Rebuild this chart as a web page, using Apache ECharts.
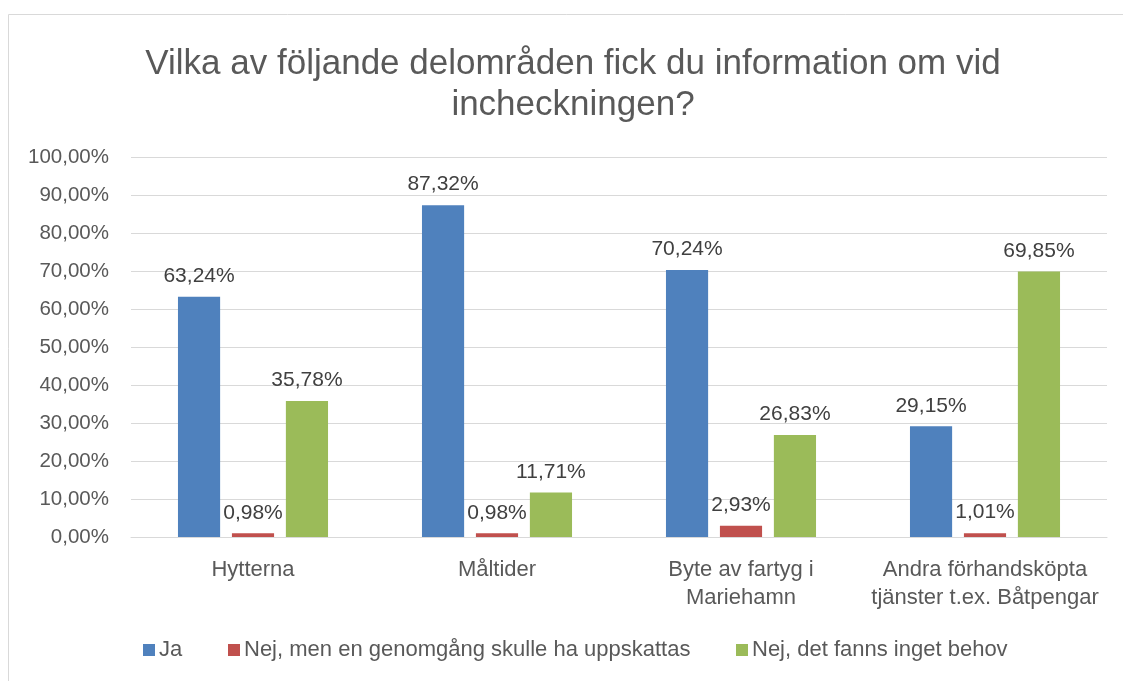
<!DOCTYPE html>
<html>
<head>
<meta charset="utf-8">
<script src="https://cdn.jsdelivr.net/npm/echarts@6/dist/echarts.min.js"></script>
<style>
  html, body { margin: 0; padding: 0; background: #fff; }
  #chart { width: 1123px; height: 681px; }
</style>
</head>
<body>
<div id="chart"></div>
<script>
// kategorier och värden (procent)
var categories = ['Hytterna', 'Måltider', 'Byte av fartyg i\nMariehamn', 'Andra förhandsköpta\ntjänster t.ex. Båtpengar'];
var seriesNames = ['Ja', 'Nej, men en genomgång skulle ha uppskattas', 'Nej, det fanns inget behov'];
var jaValues = [63.24, 87.32, 70.24, 29.15];
var nejMenValues = [0.98, 0.98, 2.93, 1.01];
var nejBehovValues = [35.78, 11.71, 26.83, 69.85];
var yTicks = [0, 10, 20, 30, 40, 50, 60, 70, 80, 90, 100];

var colors = ['#4f81bd', '#c0504d', '#9bbb59'];
var fontFamily = '"Liberation Sans", Arial, sans-serif';

function pct (v) {
  return v.toFixed(2).replace('.', ',') + '%';
}

var myChart = echarts.init(document.getElementById('chart'));

function makeSeries (name, values) {
  return {
    name: name,
    type: 'bar',
    data: values,
    barGap: '28%',
    barCategoryGap: '38.5%',
    label: {
      show: true,
      position: 'top',
      distance: 10,
      color: '#404040',
      fontSize: 21,
      fontFamily: fontFamily,
      formatter: function (p) { return pct(p.value) }
    }
  }
}

function legendItem (name, left) {
  return {
    data: [name],
    left: left,
    top: 639,
    padding: 0,
    icon: 'rect',
    itemWidth: 12,
    itemHeight: 12,
    itemGap: 0,
    selectedMode: false,
    textStyle: { color: '#595959', fontSize: 22, fontFamily: fontFamily, padding: [0, 0, 0, -1] }
  }
}

myChart.setOption({
  color: colors,
  animation: false,
  title: {
    text: 'Vilka av följande delområden fick du information om vid\nincheckningen?',
    left: 568,
    textAlign: 'center',
    top: 39,
    textStyle: {
      color: '#595959',
      fontSize: 35,
      fontWeight: 'normal',
      lineHeight: 41,
      fontFamily: fontFamily
    }
  },
  graphic: [{
    type: 'rect',
    shape: { x: 8.5, y: 14.5, width: 1300, height: 800 },
    style: { fill: 'none', stroke: '#d9d9d9', lineWidth: 1 },
    silent: true
  }],
  legend: [
    legendItem(seriesNames[0], 143),
    legendItem(seriesNames[1], 228),
    legendItem(seriesNames[2], 736)
  ],
  grid: {
    left: 131,
    right: 16,
    top: 157,
    bottom: 144
  },
  xAxis: {
    type: 'category',
    data: categories,
    axisTick: { show: false },
    axisLine: { lineStyle: { color: '#d9d9d9' } },
    axisLabel: {
      color: '#595959',
      fontSize: 22,
      lineHeight: 28,
      margin: 19,
      fontFamily: fontFamily,
      interval: 0
    }
  },
  yAxis: {
    type: 'value',
    min: yTicks[0],
    max: yTicks[yTicks.length - 1],
    interval: 10,
    axisLine: { show: false },
    axisTick: { show: false },
    splitLine: { lineStyle: { color: '#d9d9d9' } },
    axisLabel: {
      color: '#595959',
      fontSize: 20.5,
      margin: 22,
      fontFamily: fontFamily,
      formatter: function (v) { return pct(v) }
    }
  },
  series: [
    makeSeries(seriesNames[0], jaValues),
    makeSeries(seriesNames[1], nejMenValues),
    makeSeries(seriesNames[2], nejBehovValues)
  ]
});
</script>
</body>
</html>
